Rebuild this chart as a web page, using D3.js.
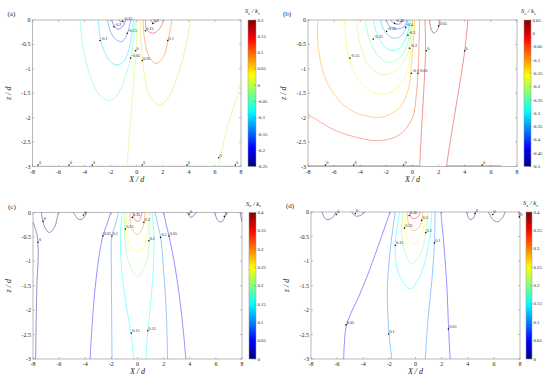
<!DOCTYPE html>
<html>
<head>
<meta charset="utf-8">
<script src="https://cdn.jsdelivr.net/npm/d3@7"></script>
<style>
body { margin: 0; background: #fff; }
svg { display: block; }
text { font-family: "Liberation Serif", "Times New Roman", serif; fill: #222; }
</style>
</head>
<body>
<svg id="fig" width="550" height="379"></svg>
<script>
// axis ticks shared by all four panels
const xTicks = [-8, -6, -4, -2, 0, 2, 4, 6, 8];
const zTicks = [0, -0.5, -1, -1.5, -2, -2.5, -3];

// colour bar ranges and ticks
const rangeA = [-0.25, 0.2];
const rangeB = [-0.5, 0.05];
const rangeCD = [0, 0.4];
const barTicksA = [0.2, 0.15, 0.1, 0.05, 0, -0.05, -0.1, -0.15, -0.2, -0.25];
const barTicksB = [0.05, 0, -0.05, -0.1, -0.15, -0.2, -0.25, -0.3, -0.35, -0.4, -0.45, -0.5];
const barTicksCD = [0.4, 0.35, 0.3, 0.25, 0.2, 0.15, 0.1, 0.05, 0];

// contour lines: [level, [[X/d, z/d], ...]]
const contoursA = [
  [-0.25, [[-1.35, 0], [-1.22, -0.04], [-1.08, 0]]],
  [-0.2, [[-1.91, 0], [-1.75, -0.12], [-1.4, -0.19], [-1.05, -0.12], [-0.85, 0]]],
  [-0.15, [[-2.25, 0], [-2.0, -0.25], [-1.6, -0.4], [-1.14, -0.44], [-0.75, -0.3], [-0.55, -0.12], [-0.45, 0]]],
  [-0.1, [[-2.94, 0], [-2.8, -0.38], [-2.4, -0.7], [-1.9, -0.88], [-1.5, -0.92], [-1.0, -0.85], [-0.6, -0.6], [-0.35, -0.25], [-0.25, 0]]],
  [-0.05, [[-4.35, 0], [-4.1, -0.6], [-3.5, -1.2], [-2.8, -1.55], [-2.05, -1.65], [-1.4, -1.5], [-0.8, -1.1], [-0.45, -0.75], [-0.2, -0.3], [-0.12, 0]]],
  [0, [[0.05, 0], [-0.05, -0.6], [-0.3, -1.5], [-0.55, -2.3], [-0.75, -3]]],
  [0, [[-8, -2.985], [8, -2.985]]],
  [0, [[6.3, -3], [6.8, -2.35], [7.4, -1.8], [8, -1.27]]],
  [0.05, [[0.27, 0], [0.35, -0.5], [0.55, -1.05], [1.0, -1.55], [1.76, -1.74], [2.5, -1.55], [3.2, -1.1], [3.8, -0.5], [4.12, 0]]],
  [0.1, [[0.48, 0], [0.6, -0.4], [0.95, -0.75], [1.5, -0.89], [2.05, -0.75], [2.4, -0.42], [2.7, 0]]],
  [0.15, [[0.68, 0], [0.75, -0.2], [1.3, -0.27], [1.8, -0.16], [2.06, 0]]],
  [0.2, [[1.05, 0], [1.3, -0.07], [1.6, 0]]]
];
const labelsA = [
  [-1.06, -0.03, "-0.25"], [-1.75, -0.14, "-0.2"], [-0.73, -0.27, "-0.15"], [-2.82, -0.42, "-0.1"],
  [-0.47, -0.78, "-0.05"], [-0.09, -0.63, "0"], [0.42, -0.83, "0.05"], [2.38, -0.42, "0.1"],
  [0.67, -0.22, "0.15"], [1.23, -0.07, "0.2"], [6.29, -2.82, "0"],
  [-7.57, -2.97, "0"], [-5.19, -2.97, "0"], [-3.41, -2.97, "0"], [0.42, -2.97, "0"], [3.86, -2.97, "0"], [7.56, -2.97, "0"]
];

const contoursB = [
  [-0.45, [[-1.65, 0], [-1.4, -0.07], [-1.0, -0.08], [-0.7, 0]]],
  [-0.4, [[-2.0, 0], [-1.8, -0.12], [-1.3, -0.18], [-0.8, -0.16], [-0.55, -0.1], [-0.45, 0]]],
  [-0.35, [[-2.45, 0], [-2.2, -0.2], [-1.6, -0.36], [-1.0, -0.35], [-0.55, -0.2], [-0.35, 0]]],
  [-0.3, [[-3.0, 0], [-2.7, -0.3], [-2.1, -0.55], [-1.5, -0.63], [-0.9, -0.55], [-0.4, -0.3], [-0.25, 0]]],
  [-0.25, [[-3.6, 0], [-3.3, -0.4], [-2.6, -0.75], [-1.75, -0.87], [-1.0, -0.78], [-0.4, -0.5], [-0.15, 0]]],
  [-0.2, [[-4.3, 0], [-4.0, -0.5], [-3.3, -0.95], [-2.2, -1.12], [-1.2, -1.02], [-0.45, -0.75], [-0.2, -0.45], [-0.1, 0]]],
  [-0.15, [[-5.2, 0], [-5.0, -0.6], [-4.3, -1.15], [-3.2, -1.45], [-2.3, -1.52], [-1.3, -1.42], [-0.55, -1.15], [-0.15, -0.7], [0, 0]]],
  [-0.1, [[-7.25, 0], [-7.2, -0.6], [-6.5, -1.3], [-5.0, -1.8], [-3.3, -1.98], [-2.2, -1.98], [-1.0, -1.8], [-0.3, -1.4], [-0.08, -0.9], [0.1, -0.3], [0.15, 0]]],
  [-0.05, [[-8, -1.93], [-6, -2.25], [-4, -2.42], [-2.5, -2.47], [-1, -2.35], [0, -2.0], [0.3, -1.5], [0.42, -1.09], [0.5, -0.5], [0.55, 0]]],
  [0, [[0.95, 0], [1.0, -0.6], [0.85, -1.5], [0.68, -2.3], [0.55, -3]]],
  [0, [[4.24, 0], [4.0, -0.63], [3.5, -1.5], [3.0, -2.3], [2.6, -3]]],
  [0, [[-8, -2.985], [0.55, -2.985]]],
  [0, [[2.6, -2.985], [6.8, -2.985]]],
  [0.05, [[1.3, 0], [1.45, -0.2], [1.65, -0.27], [1.95, -0.18], [2.1, 0]]]
];
const labelsB = [
  [-1.37, -0.07, "-0.45"], [-0.53, -0.15, "-0.4"], [-1.98, -0.23, "-0.35"], [-0.35, -0.31, "-0.3"],
  [-3.0, -0.39, "-0.25"], [-0.22, -0.58, "-0.2"], [-4.79, -0.78, "-0.15"], [-0.09, -1.09, "-0.1"],
  [0.42, -1.09, "-0.05"], [2.0, -0.12, "0.05"], [1.06, -0.63, "0"], [3.99, -0.63, "0"],
  [-6.67, -2.97, "0"], [-4.5, -2.97, "0"], [-0.68, -2.97, "0"], [5.34, -2.97, "0"]
];

const contoursC = [
  [0, [[-8, -0.2], [-7.7, -0.45], [-7.6, -0.8], [-7.7, -1.5], [-7.8, -3]]],
  [0, [[-7.36, 0], [-7.1, -0.3], [-6.75, -0.41], [-6.35, -0.3], [-6.07, 0]]],
  [0, [[-4.9, 0], [-4.5, -0.14], [-4.2, -0.13], [-3.9, 0]]],
  [0, [[3.8, 0], [4.1, -0.1], [4.5, 0]]],
  [0, [[5.9, 0], [6.2, -0.18], [6.5, -0.18], [6.8, 0]]],
  [0, [[7.85, 0], [8, -0.2]]],
  [0.05, [[-2.05, 0], [-2.35, -0.25], [-2.65, -0.48], [-3.0, -1.0], [-3.3, -1.7], [-3.5, -2.4], [-3.63, -3]]],
  [0.05, [[2.0, 0], [2.2, -0.25], [2.41, -0.48], [2.8, -1.0], [3.2, -1.7], [3.5, -2.4], [3.7, -3]]],
  [0.1, [[-1.45, 0], [-1.7, -0.25], [-1.96, -0.48], [-2.0, -1.2], [-1.98, -2.0], [-1.95, -3]]],
  [0.1, [[1.35, 0], [1.55, -0.25], [1.77, -0.51], [2.0, -1.2], [2.2, -2.0], [2.3, -3]]],
  [0.15, [[-1.15, 0], [-1.3, -0.4], [-1.2, -1.2], [-0.8, -2.0], [-0.5, -2.47], [-0.3, -3]]],
  [0.15, [[1.1, 0], [1.25, -0.4], [1.2, -1.2], [0.95, -2.0], [0.79, -2.42], [0.65, -3]]],
  [0.2, [[-0.95, 0], [-1.0, -0.45], [-0.7, -1.0], [0, -1.31], [0.7, -1.0], [0.92, -0.5], [0.95, 0]]],
  [0.25, [[-0.75, 0], [-0.9, -0.34], [-0.5, -0.7], [0, -0.8], [0.5, -0.7], [0.8, -0.3], [0.75, 0]]],
  [0.3, [[-0.55, 0], [-0.5, -0.3], [0, -0.45], [0.48, -0.25], [0.55, 0]]],
  [0.35, [[-0.35, 0], [-0.2, -0.15], [0.1, -0.18], [0.35, 0]]]
];
const labelsC = [
  [-2.65, -0.48, "0.05"], [-1.96, -0.48, "0.1"], [-0.93, -0.34, "0.25"], [-0.4, -0.1, "0.35"],
  [0.48, -0.2, "0.3"], [0.87, -0.58, "0.2"], [1.77, -0.51, "0.1"], [2.41, -0.48, "0.05"],
  [-0.47, -2.47, "0.15"], [0.79, -2.42, "0.15"],
  [-7.61, -0.61, "0"], [-7.23, -0.18, "0"], [-4.14, -0.05, "0"], [3.95, -0.03, "0"], [6.65, -0.08, "0"]
];

const contoursD = [
  [0, [[-7.16, 0], [-6.9, -0.14], [-6.6, -0.15], [-6.3, -0.1], [-6.1, 0]]],
  [0, [[-4.9, 0], [-4.6, -0.08], [-4.2, -0.07], [-3.9, 0]]],
  [0, [[3.9, 0], [4.15, -0.15], [4.45, -0.12], [4.6, 0]]],
  [0, [[5.6, 0], [5.9, -0.15], [6.3, -0.2], [6.7, -0.1], [6.85, 0]]],
  [0, [[7.9, 0], [8, -0.12]]],
  [0.05, [[-1.94, 0], [-2.6, -0.5], [-3.4, -1.1], [-4.3, -1.7], [-5.0, -2.1], [-5.32, -2.35], [-5.45, -2.7], [-5.5, -3]]],
  [0.05, [[1.94, 0], [2.15, -0.6], [2.4, -1.5], [2.52, -2.3], [2.65, -3]]],
  [0.1, [[-1.55, 0], [-1.9, -0.7], [-2.15, -1.5], [-2.1, -2.2], [-1.95, -2.7], [-1.81, -3]]],
  [0.1, [[1.5, 0], [1.45, -0.63], [1.25, -1.4], [0.95, -2.2], [0.75, -3]]],
  [0.15, [[-1.2, 0], [-1.55, -0.68], [-1.3, -1.25], [-0.4, -1.57], [0.5, -1.2], [1.05, -0.6], [1.25, 0]]],
  [0.2, [[-0.95, 0], [-1.05, -0.5], [-0.7, -0.9], [-0.3, -1.06], [0.4, -0.85], [0.8, -0.42], [0.95, 0]]],
  [0.25, [[-0.75, 0], [-0.84, -0.33], [-0.5, -0.6], [-0.15, -0.65], [0.4, -0.5], [0.7, -0.2], [0.75, 0]]],
  [0.3, [[-0.6, 0], [-0.55, -0.22], [-0.2, -0.38], [0.2, -0.33], [0.48, -0.17], [0.55, 0]]],
  [0.35, [[-0.45, 0], [-0.3, -0.12], [0, -0.13], [0.25, -0.08], [0.35, 0]]]
];
const labelsD = [
  [-0.48, -0.07, "0.35"], [0.48, -0.17, "0.3"], [-0.84, -0.33, "0.25"], [0.79, -0.42, "0.2"],
  [-1.55, -0.68, "0.15"], [1.45, -0.63, "0.1"], [-5.32, -2.3, "0.05"], [-2.06, -2.49, "0.1"], [2.52, -2.39, "0.05"],
  [-6.06, -0.05, "0"], [-4.61, -0.03, "0"], [4.56, -0.03, "0"], [5.91, -0.05, "0"], [7.95, -0.1, "0"]
];

function jet(t) {
  const c = v => Math.round(255 * Math.max(0, Math.min(1, v)));
  return `rgb(${c(1.5 - Math.abs(4 * t - 3))},${c(1.5 - Math.abs(4 * t - 2))},${c(1.5 - Math.abs(4 * t - 1))})`;
}
const fmt = d => String(+d.toFixed(2));

const svg = d3.select("#fig");
const defs = svg.append("defs");
const grad = defs.append("linearGradient").attr("id", "jet")
  .attr("x1", 0).attr("y1", 1).attr("x2", 0).attr("y2", 0);
d3.range(0, 1.0001, 0.0625).forEach(t => {
  grad.append("stop").attr("offset", t).attr("stop-color", jet(t));
});

function drawPanel(box, contours, labels, range, barTicks, tag, sub) {
  const x = d3.scaleLinear().domain([-8, 8]).range([box.x0, box.x1]);
  const y = d3.scaleLinear().domain([-3, 0]).range([box.y1, box.y0]);
  const c = d3.scaleLinear().domain(range).range([0, 1]);
  const g = svg.append("g");

  const clipId = "clip" + tag;
  defs.append("clipPath").attr("id", clipId).append("rect")
    .attr("x", box.x0).attr("y", box.y0 - 1)
    .attr("width", box.x1 - box.x0).attr("height", box.y1 - box.y0 + 1);

  // frame and ticks (inward, all four sides)
  g.append("rect").attr("x", box.x0).attr("y", box.y0)
    .attr("width", box.x1 - box.x0).attr("height", box.y1 - box.y0)
    .attr("fill", "none").attr("stroke", "#a8a8a8").attr("stroke-width", 0.8);
  xTicks.forEach(v => {
    g.append("line").attr("x1", x(v)).attr("x2", x(v)).attr("y1", box.y1).attr("y2", box.y1 - 2)
      .attr("stroke", "#999").attr("stroke-width", 0.6);
    g.append("line").attr("x1", x(v)).attr("x2", x(v)).attr("y1", box.y0).attr("y2", box.y0 + 2)
      .attr("stroke", "#999").attr("stroke-width", 0.6);
    g.append("text").attr("x", x(v)).attr("y", box.y1 + 7).attr("text-anchor", "middle")
      .attr("font-size", 6).text(fmt(v));
  });
  zTicks.forEach(v => {
    g.append("line").attr("x1", box.x0).attr("x2", box.x0 + 2).attr("y1", y(v)).attr("y2", y(v))
      .attr("stroke", "#999").attr("stroke-width", 0.6);
    g.append("line").attr("x1", box.x1).attr("x2", box.x1 - 2).attr("y1", y(v)).attr("y2", y(v))
      .attr("stroke", "#999").attr("stroke-width", 0.6);
    g.append("text").attr("x", box.x0 - 2).attr("y", y(v) + 2).attr("text-anchor", "end")
      .attr("font-size", 6).text(fmt(v));
  });

  // contour lines
  const line = d3.line().x(d => x(d[0])).y(d => y(d[1])).curve(d3.curveCatmullRom.alpha(0.5));
  g.append("g").attr("clip-path", `url(#${clipId})`)
    .selectAll("path").data(contours).enter().append("path")
    .attr("d", d => line(d[1]))
    .attr("fill", "none")
    .attr("stroke", d => jet(c(d[0])))
    .attr("stroke-opacity", 0.5)
    .attr("stroke-width", 0.85);

  // contour labels
  const lab = g.append("g");
  lab.selectAll("circle").data(labels).enter().append("circle")
    .attr("cx", d => x(d[0])).attr("cy", d => y(d[1])).attr("r", 0.8).attr("fill", "#111");
  lab.selectAll("text").data(labels).enter().append("text")
    .attr("x", d => x(d[0]) + 0.8).attr("y", d => y(d[1]) - 1)
    .attr("font-size", 4.2).attr("font-family", "Liberation Sans, Arial, sans-serif")
    .text(d => d[2]);

  // axis titles
  g.append("text").attr("x", (box.x0 + box.x1) / 2).attr("y", box.y1 + 15)
    .attr("text-anchor", "middle").attr("font-size", 8).attr("font-style", "italic")
    .text("X / d");
  g.append("text").attr("transform", `translate(${box.x0 - 22},${(box.y0 + box.y1) / 2}) rotate(-90)`)
    .attr("text-anchor", "middle").attr("font-size", 8).attr("font-style", "italic")
    .text("z / d");
  g.append("text").attr("x", box.x0 - 25).attr("y", box.y0 - 4)
    .attr("font-size", 7).text(`(${tag})`);

  // colour bar
  const cb = d3.scaleLinear().domain(range).range([box.y1, box.y0]);
  g.append("rect").attr("x", box.cb0).attr("y", box.y0)
    .attr("width", box.cb1 - box.cb0).attr("height", box.y1 - box.y0)
    .attr("fill", "url(#jet)").attr("stroke", "#999").attr("stroke-width", 0.5);
  barTicks.forEach(v => {
    g.append("line").attr("x1", box.cb1).attr("x2", box.cb1 - 1.5).attr("y1", cb(v)).attr("y2", cb(v))
      .attr("stroke", "#555").attr("stroke-width", 0.4);
    g.append("text").attr("x", box.cb1 + 1.5).attr("y", cb(v) + 1.6)
      .attr("font-size", 4.8).attr("font-family", "Liberation Sans, Arial, sans-serif")
      .text(fmt(v));
  });
  const t = g.append("text").attr("x", box.cb0 - 3).attr("y", box.y0 - 7)
    .attr("font-size", 6.5).attr("font-style", "italic");
  t.append("tspan").text("S");
  t.append("tspan").attr("font-size", 4.5).attr("dy", 1.5).text(sub);
  t.append("tspan").attr("dy", -1.5).text(" / k");
  t.append("tspan").attr("font-size", 4.5).attr("dy", 1.5).text("s");
}

drawPanel({x0: 32.5, x1: 241, y0: 20, y1: 166.5, cb0: 248, cb1: 256}, contoursA, labelsA, rangeA, barTicksA, "a", "z");
drawPanel({x0: 308, x1: 517, y0: 20, y1: 166.5, cb0: 524, cb1: 531}, contoursB, labelsB, rangeB, barTicksB, "b", "z");
drawPanel({x0: 33, x1: 242, y0: 212.5, y1: 359, cb0: 249, cb1: 256}, contoursC, labelsC, rangeCD, barTicksCD, "c", "x");
drawPanel({x0: 311, x1: 520, y0: 212, y1: 359, cb0: 526, cb1: 532}, contoursD, labelsD, rangeCD, barTicksCD, "d", "x");
</script>
</body>
</html>
